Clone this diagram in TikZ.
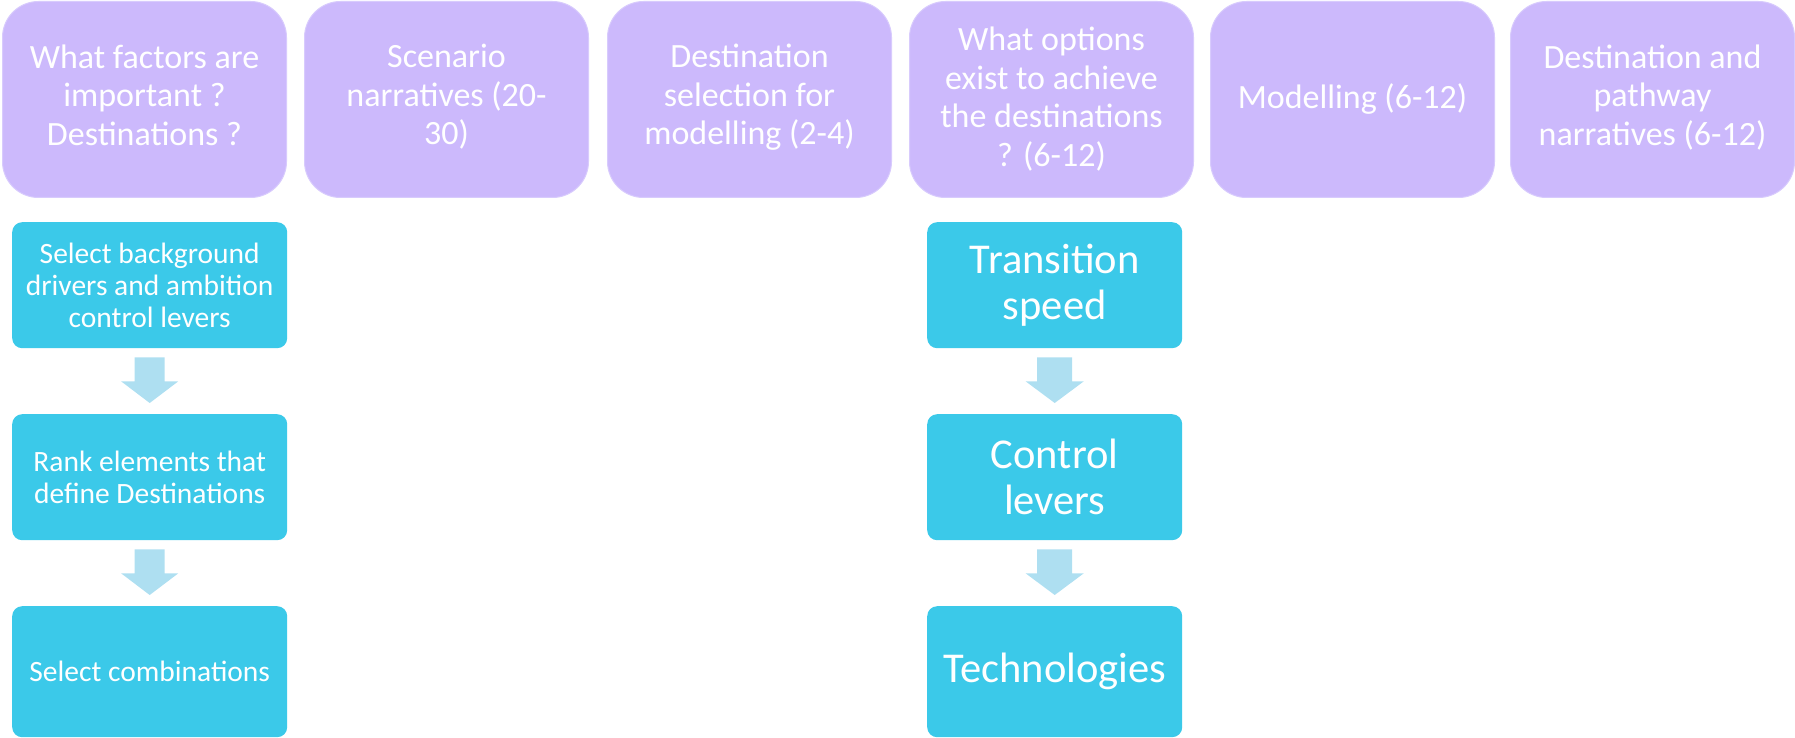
\documentclass[tikz,border=0pt]{standalone}
\usepackage{fontspec}
\setmainfont{Carlito}
\usetikzlibrary{calc}
\definecolor{stagefill}{HTML}{CCB9FC}
\definecolor{stageedge}{HTML}{D8CBFD}
\definecolor{stepfill}{HTML}{3BC9E9}
\definecolor{flowfill}{HTML}{AEDFF1}
\tikzset{
  stagebox/.style={draw=stageedge, line width=1pt, fill=stagefill, rounded corners=36pt,
    minimum width=284pt, minimum height=196pt, inner sep=0pt, anchor=north west},
  stagetext/.style={text=white, align=center, inner sep=0pt,
    font=\fontsize{34}{38.5}\selectfont,
    execute at begin node=\strut, execute at end node=\strut},
  stepbox/.style={fill=stepfill, rounded corners=10pt, minimum width=275pt,
    minimum height=126pt, inner sep=0pt, anchor=north west, text=white, align=center},
  smalltext/.style={font=\fontsize{29.5}{32}\selectfont},
  bigtext/.style={font=\fontsize{42.5}{46}\selectfont},
  flowarrow/.style={fill=flowfill}
}
\begin{document}
\begin{tikzpicture}[x=1pt, y=-1pt]
\useasboundingbox (0,0) rectangle (1795,738);

% top row of stages
\node[stagebox] (s1) at (2,1) {};
\node[stagebox] (s2) at (304,1) {};
\node[stagebox] (s3) at (607,1) {};
\node[stagebox] (s4) at (909,1) {};
\node[stagebox] (s5) at (1210,1) {};
\node[stagebox] (s6) at (1510,1) {};

\node[stagetext] (t1) at ($(s1.center)+(0,1)$) {What factors are\\important ?\\Destinations ?};
\node[stagetext] (t2) at ($(s2.center)+(0,1)$) {Scenario\\narratives (20-\\30)};
\node[stagetext] (t3) at ($(s3.center)+(0,1)$) {Destination\\selection for\\modelling (2-4)};
\node[stagetext] (t4) at ($(s4.center)+(0,3)$) {What options\\exist to achieve\\the destinations\\? (6-12)};
\node[stagetext] (t5) at ($(s5.center)+(0,1)$) {Modelling (6-12)};
\node[stagetext] (t6) at ($(s6.center)+(0,1)$) {Destination and\\pathway\\narratives (6-12)};

% left column of steps
\node[stepbox, smalltext] (a1) at (12,222) {Select background\\drivers and ambition\\control levers};
\node[stepbox, smalltext] (a2) at (12,414) {Rank elements that\\define Destinations};
\node[stepbox, smalltext, minimum height=131pt] (a3) at (12,606) {Select combinations};

% middle column of steps
\node[stepbox, bigtext, minimum width=255pt] (m1) at (927,222) {Transition\\speed};
\node[stepbox, bigtext, minimum width=255pt] (m2) at (927,414) {Control\\levers};
\node[stepbox, bigtext, minimum width=255pt, minimum height=131pt] (m3) at (927,606) {Technologies};

% block arrows between steps
\foreach \u/\v/\s/\h in {a1/a2/15/28.5, a2/a3/15/28.5, m1/m2/17.5/29, m2/m3/17.5/29}{
  \fill[flowarrow] ($(\u.south)+(-\s,9)$) -- ($(\u.south)+(\s,9)$)
    -- ($(\u.south)+(\s,33)$) -- ($(\u.south)+(\h,33)$)
    -- ($(\v.north)+(0,-11)$)
    -- ($(\u.south)+(-\h,33)$) -- ($(\u.south)+(-\s,33)$) -- cycle;
}
\end{tikzpicture}
\end{document}
